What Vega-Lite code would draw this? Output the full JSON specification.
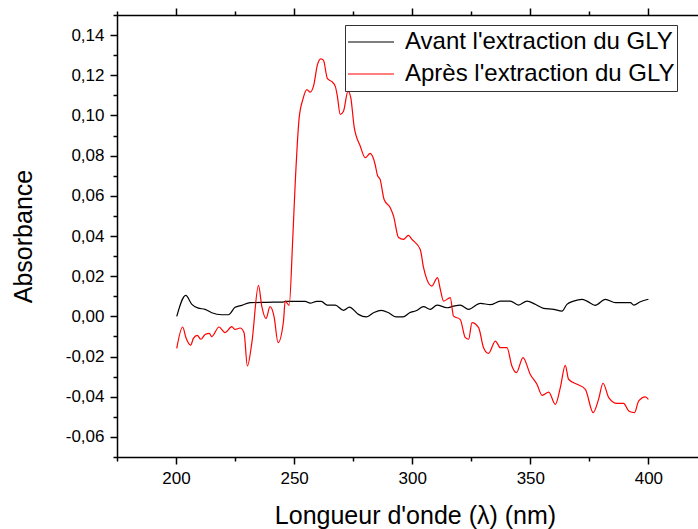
{
  "$schema": "https://vega.github.io/schema/vega-lite/v6.json",
  "width": 581,
  "height": 442,
  "autosize": "none",
  "padding": {"left": 117, "top": 15, "right": 0, "bottom": 72},
  "background": "white",
  "config": {
    "view": {"stroke": null},
    "locale": {"number": {"decimal": ",", "thousands": " ", "grouping": [3], "currency": ["", " €"], "minus": "-"}},
    "font": "Liberation Sans",
    "axis": {
      "domainColor": "black", "domainWidth": 1.5, "tickColor": "black", "tickWidth": 1.5,
      "labelColor": "black", "labelFont": "Liberation Sans", "labelFontSize": 17,
      "titleFont": "Liberation Sans", "titleFontSize": 24, "titleFontWeight": "normal", "titleColor": "black",
      "grid": false, "labelFlush": false, "labelOverlap": false
    }
  },
  "datasets": {
    "avant": [
      {"serie": "Avant l'extraction du GLY", "nm": 200.3, "abs": 0.0},
      {"serie": "Avant l'extraction du GLY", "nm": 204.1, "abs": 0.0104},
      {"serie": "Avant l'extraction du GLY", "nm": 206.7, "abs": 0.006},
      {"serie": "Avant l'extraction du GLY", "nm": 209.4, "abs": 0.0041},
      {"serie": "Avant l'extraction du GLY", "nm": 212.3, "abs": 0.0035},
      {"serie": "Avant l'extraction du GLY", "nm": 215.1, "abs": 0.0018},
      {"serie": "Avant l'extraction du GLY", "nm": 219.4, "abs": 0.0008},
      {"serie": "Avant l'extraction du GLY", "nm": 222.2, "abs": 0.0008},
      {"serie": "Avant l'extraction du GLY", "nm": 225.0, "abs": 0.0045},
      {"serie": "Avant l'extraction du GLY", "nm": 227.8, "abs": 0.0055},
      {"serie": "Avant l'extraction du GLY", "nm": 231.4, "abs": 0.0068},
      {"serie": "Avant l'extraction du GLY", "nm": 238.0, "abs": 0.007},
      {"serie": "Avant l'extraction du GLY", "nm": 245.3, "abs": 0.0071},
      {"serie": "Avant l'extraction du GLY", "nm": 246.2, "abs": 0.0075},
      {"serie": "Avant l'extraction du GLY", "nm": 254.7, "abs": 0.0075},
      {"serie": "Avant l'extraction du GLY", "nm": 256.8, "abs": 0.0066},
      {"serie": "Avant l'extraction du GLY", "nm": 259.6, "abs": 0.0075},
      {"serie": "Avant l'extraction du GLY", "nm": 261.5, "abs": 0.0075},
      {"serie": "Avant l'extraction du GLY", "nm": 264.0, "abs": 0.0056},
      {"serie": "Avant l'extraction du GLY", "nm": 267.4, "abs": 0.0056},
      {"serie": "Avant l'extraction du GLY", "nm": 270.9, "abs": 0.003},
      {"serie": "Avant l'extraction du GLY", "nm": 273.4, "abs": 0.0046},
      {"serie": "Avant l'extraction du GLY", "nm": 277.2, "abs": 0.001},
      {"serie": "Avant l'extraction du GLY", "nm": 280.5, "abs": -0.0003},
      {"serie": "Avant l'extraction du GLY", "nm": 283.6, "abs": 0.0018},
      {"serie": "Avant l'extraction du GLY", "nm": 286.9, "abs": 0.003},
      {"serie": "Avant l'extraction du GLY", "nm": 290.0, "abs": 0.0018},
      {"serie": "Avant l'extraction du GLY", "nm": 293.2, "abs": -0.0003},
      {"serie": "Avant l'extraction du GLY", "nm": 296.1, "abs": -0.0003},
      {"serie": "Avant l'extraction du GLY", "nm": 298.9, "abs": 0.0018},
      {"serie": "Avant l'extraction du GLY", "nm": 301.6, "abs": 0.0028},
      {"serie": "Avant l'extraction du GLY", "nm": 304.8, "abs": 0.0048},
      {"serie": "Avant l'extraction du GLY", "nm": 307.6, "abs": 0.0035},
      {"serie": "Avant l'extraction du GLY", "nm": 310.5, "abs": 0.0056},
      {"serie": "Avant l'extraction du GLY", "nm": 314.7, "abs": 0.0043},
      {"serie": "Avant l'extraction du GLY", "nm": 317.5, "abs": 0.0051},
      {"serie": "Avant l'extraction du GLY", "nm": 320.3, "abs": 0.0056},
      {"serie": "Avant l'extraction du GLY", "nm": 323.9, "abs": 0.0035},
      {"serie": "Avant l'extraction du GLY", "nm": 328.8, "abs": 0.0065},
      {"serie": "Avant l'extraction du GLY", "nm": 333.1, "abs": 0.0058},
      {"serie": "Avant l'extraction du GLY", "nm": 337.3, "abs": 0.0076},
      {"serie": "Avant l'extraction du GLY", "nm": 341.5, "abs": 0.0076},
      {"serie": "Avant l'extraction du GLY", "nm": 345.0, "abs": 0.0056},
      {"serie": "Avant l'extraction du GLY", "nm": 348.6, "abs": 0.0076},
      {"serie": "Avant l'extraction du GLY", "nm": 352.1, "abs": 0.006},
      {"serie": "Avant l'extraction du GLY", "nm": 355.6, "abs": 0.004},
      {"serie": "Avant l'extraction du GLY", "nm": 359.9, "abs": 0.0035},
      {"serie": "Avant l'extraction du GLY", "nm": 363.4, "abs": 0.0026},
      {"serie": "Avant l'extraction du GLY", "nm": 365.5, "abs": 0.006},
      {"serie": "Avant l'extraction du GLY", "nm": 368.3, "abs": 0.0076},
      {"serie": "Avant l'extraction du GLY", "nm": 371.9, "abs": 0.0085},
      {"serie": "Avant l'extraction du GLY", "nm": 374.0, "abs": 0.0076},
      {"serie": "Avant l'extraction du GLY", "nm": 377.5, "abs": 0.0055},
      {"serie": "Avant l'extraction du GLY", "nm": 381.8, "abs": 0.0085},
      {"serie": "Avant l'extraction du GLY", "nm": 386.0, "abs": 0.0068},
      {"serie": "Avant l'extraction du GLY", "nm": 392.4, "abs": 0.0068},
      {"serie": "Avant l'extraction du GLY", "nm": 393.8, "abs": 0.0056},
      {"serie": "Avant l'extraction du GLY", "nm": 396.6, "abs": 0.0073},
      {"serie": "Avant l'extraction du GLY", "nm": 400.0, "abs": 0.0085}
    ],
    "apres": [
      {"serie": "Après l'extraction du GLY", "nm": 200.3, "abs": -0.0159},
      {"serie": "Après l'extraction du GLY", "nm": 202.8, "abs": -0.0053},
      {"serie": "Après l'extraction du GLY", "nm": 204.2, "abs": -0.0106},
      {"serie": "Après l'extraction du GLY", "nm": 206.2, "abs": -0.0143},
      {"serie": "Après l'extraction du GLY", "nm": 207.3, "abs": -0.0111},
      {"serie": "Après l'extraction du GLY", "nm": 209.0, "abs": -0.0095},
      {"serie": "Après l'extraction du GLY", "nm": 210.5, "abs": -0.0114},
      {"serie": "Après l'extraction du GLY", "nm": 212.3, "abs": -0.009},
      {"serie": "Après l'extraction du GLY", "nm": 214.1, "abs": -0.0085},
      {"serie": "Après l'extraction du GLY", "nm": 215.1, "abs": -0.0101},
      {"serie": "Après l'extraction du GLY", "nm": 218.2, "abs": -0.0053},
      {"serie": "Après l'extraction du GLY", "nm": 220.8, "abs": -0.0081},
      {"serie": "Après l'extraction du GLY", "nm": 223.6, "abs": -0.0051},
      {"serie": "Après l'extraction du GLY", "nm": 225.0, "abs": -0.0065},
      {"serie": "Après l'extraction du GLY", "nm": 227.1, "abs": -0.0058},
      {"serie": "Après l'extraction du GLY", "nm": 228.8, "abs": -0.0081},
      {"serie": "Après l'extraction du GLY", "nm": 230.2, "abs": -0.0247},
      {"serie": "Après l'extraction du GLY", "nm": 232.1, "abs": -0.0131},
      {"serie": "Après l'extraction du GLY", "nm": 234.9, "abs": 0.0154},
      {"serie": "Après l'extraction du GLY", "nm": 236.3, "abs": 0.0051},
      {"serie": "Après l'extraction du GLY", "nm": 238.1, "abs": -0.0011},
      {"serie": "Après l'extraction du GLY", "nm": 239.8, "abs": 0.0048},
      {"serie": "Après l'extraction du GLY", "nm": 241.5, "abs": -0.0001},
      {"serie": "Après l'extraction du GLY", "nm": 243.2, "abs": -0.0131},
      {"serie": "Après l'extraction du GLY", "nm": 245.5, "abs": -0.0023},
      {"serie": "Après l'extraction du GLY", "nm": 246.2, "abs": 0.0076},
      {"serie": "Après l'extraction du GLY", "nm": 247.9, "abs": 0.0055},
      {"serie": "Après l'extraction du GLY", "nm": 249.4, "abs": 0.0383},
      {"serie": "Après l'extraction du GLY", "nm": 250.4, "abs": 0.0648},
      {"serie": "Après l'extraction du GLY", "nm": 252.1, "abs": 0.0984},
      {"serie": "Après l'extraction du GLY", "nm": 253.7, "abs": 0.108},
      {"serie": "Après l'extraction du GLY", "nm": 255.4, "abs": 0.1129},
      {"serie": "Après l'extraction du GLY", "nm": 256.8, "abs": 0.1116},
      {"serie": "Après l'extraction du GLY", "nm": 258.2, "abs": 0.1146},
      {"serie": "Après l'extraction du GLY", "nm": 259.9, "abs": 0.1254},
      {"serie": "Après l'extraction du GLY", "nm": 261.3, "abs": 0.1282},
      {"serie": "Après l'extraction du GLY", "nm": 262.4, "abs": 0.1275},
      {"serie": "Après l'extraction du GLY", "nm": 264.1, "abs": 0.1183},
      {"serie": "Après l'extraction du GLY", "nm": 266.0, "abs": 0.1168},
      {"serie": "Après l'extraction du GLY", "nm": 267.4, "abs": 0.1146},
      {"serie": "Après l'extraction du GLY", "nm": 268.3, "abs": 0.1096},
      {"serie": "Après l'extraction du GLY", "nm": 269.5, "abs": 0.1005},
      {"serie": "Après l'extraction du GLY", "nm": 270.9, "abs": 0.1021},
      {"serie": "Après l'extraction du GLY", "nm": 272.8, "abs": 0.1121},
      {"serie": "Après l'extraction du GLY", "nm": 274.0, "abs": 0.1088},
      {"serie": "Après l'extraction du GLY", "nm": 275.4, "abs": 0.0944},
      {"serie": "Après l'extraction du GLY", "nm": 278.0, "abs": 0.0847},
      {"serie": "Après l'extraction du GLY", "nm": 280.1, "abs": 0.079},
      {"serie": "Après l'extraction du GLY", "nm": 282.2, "abs": 0.0811},
      {"serie": "Après l'extraction du GLY", "nm": 284.3, "abs": 0.0756},
      {"serie": "Après l'extraction du GLY", "nm": 285.3, "abs": 0.0701},
      {"serie": "Après l'extraction du GLY", "nm": 286.4, "abs": 0.0682},
      {"serie": "Après l'extraction du GLY", "nm": 288.1, "abs": 0.0582},
      {"serie": "Après l'extraction du GLY", "nm": 290.7, "abs": 0.0541},
      {"serie": "Après l'extraction du GLY", "nm": 292.1, "abs": 0.0499},
      {"serie": "Après l'extraction du GLY", "nm": 294.2, "abs": 0.0392},
      {"serie": "Après l'extraction du GLY", "nm": 296.3, "abs": 0.0383},
      {"serie": "Après l'extraction du GLY", "nm": 298.4, "abs": 0.0403},
      {"serie": "Après l'extraction du GLY", "nm": 299.9, "abs": 0.0383},
      {"serie": "Après l'extraction du GLY", "nm": 303.4, "abs": 0.0333},
      {"serie": "Après l'extraction du GLY", "nm": 304.8, "abs": 0.0242},
      {"serie": "Après l'extraction du GLY", "nm": 306.2, "abs": 0.0184},
      {"serie": "Après l'extraction du GLY", "nm": 308.3, "abs": 0.0151},
      {"serie": "Après l'extraction du GLY", "nm": 310.7, "abs": 0.0193},
      {"serie": "Après l'extraction du GLY", "nm": 311.9, "abs": 0.0134},
      {"serie": "Après l'extraction du GLY", "nm": 313.3, "abs": 0.0076},
      {"serie": "Après l'extraction du GLY", "nm": 316.1, "abs": 0.0093},
      {"serie": "Après l'extraction du GLY", "nm": 317.5, "abs": 0.0001},
      {"serie": "Après l'extraction du GLY", "nm": 320.3, "abs": -0.0015},
      {"serie": "Après l'extraction du GLY", "nm": 322.5, "abs": -0.0106},
      {"serie": "Après l'extraction du GLY", "nm": 323.9, "abs": -0.0114},
      {"serie": "Après l'extraction du GLY", "nm": 325.3, "abs": -0.0031},
      {"serie": "Après l'extraction du GLY", "nm": 328.1, "abs": -0.0056},
      {"serie": "Après l'extraction du GLY", "nm": 330.2, "abs": -0.0156},
      {"serie": "Après l'extraction du GLY", "nm": 332.3, "abs": -0.0184},
      {"serie": "Après l'extraction du GLY", "nm": 335.2, "abs": -0.0123},
      {"serie": "Après l'extraction du GLY", "nm": 337.3, "abs": -0.0156},
      {"serie": "Après l'extraction du GLY", "nm": 340.1, "abs": -0.0156},
      {"serie": "Après l'extraction du GLY", "nm": 342.2, "abs": -0.0247},
      {"serie": "Après l'extraction du GLY", "nm": 344.1, "abs": -0.028},
      {"serie": "Après l'extraction du GLY", "nm": 346.9, "abs": -0.0205},
      {"serie": "Après l'extraction du GLY", "nm": 350.0, "abs": -0.0289},
      {"serie": "Après l'extraction du GLY", "nm": 352.8, "abs": -0.0338},
      {"serie": "Après l'extraction du GLY", "nm": 355.0, "abs": -0.0393},
      {"serie": "Après l'extraction du GLY", "nm": 357.8, "abs": -0.0377},
      {"serie": "Après l'extraction du GLY", "nm": 360.6, "abs": -0.0438},
      {"serie": "Après l'extraction du GLY", "nm": 362.7, "abs": -0.0355},
      {"serie": "Après l'extraction du GLY", "nm": 364.8, "abs": -0.0244},
      {"serie": "Après l'extraction du GLY", "nm": 366.2, "abs": -0.0313},
      {"serie": "Après l'extraction du GLY", "nm": 369.8, "abs": -0.0338},
      {"serie": "Après l'extraction du GLY", "nm": 373.3, "abs": -0.0363},
      {"serie": "Après l'extraction du GLY", "nm": 376.6, "abs": -0.0479},
      {"serie": "Après l'extraction du GLY", "nm": 378.9, "abs": -0.0413},
      {"serie": "Après l'extraction du GLY", "nm": 380.8, "abs": -0.0333},
      {"serie": "Après l'extraction du GLY", "nm": 383.2, "abs": -0.0404},
      {"serie": "Après l'extraction du GLY", "nm": 386.7, "abs": -0.0433},
      {"serie": "Après l'extraction du GLY", "nm": 389.5, "abs": -0.0433},
      {"serie": "Après l'extraction du GLY", "nm": 391.7, "abs": -0.0471},
      {"serie": "Après l'extraction du GLY", "nm": 394.1, "abs": -0.0479},
      {"serie": "Après l'extraction du GLY", "nm": 395.9, "abs": -0.0421},
      {"serie": "Après l'extraction du GLY", "nm": 398.7, "abs": -0.0401},
      {"serie": "Après l'extraction du GLY", "nm": 400.0, "abs": -0.0413}
    ]
  },
  "layer": [
    {
      "data": {"name": "avant"},
      "mark": {"type": "line", "strokeWidth": 1.2, "interpolate": "monotone"},
      "encoding": {
        "x": {
          "field": "nm", "type": "quantitative",
          "scale": {"domain": [175, 421], "nice": false, "zero": false},
          "axis": {
            "orient": "bottom",
            "values": [175, 200, 225, 250, 275, 300, 325, 350, 375, 400],
            "labelExpr": "datum.value % 50 === 0 ? datum.label : ''",
            "tickSize": {"condition": {"test": "datum.value % 50 === 0", "value": 7}, "value": 4},
            "labelPadding": 6,
            "title": "Longueur d'onde (λ) (nm)",
            "titleFontSize": 25,
            "titlePadding": 17,
            "titleX": 298
          }
        },
        "y": {
          "field": "abs", "type": "quantitative",
          "scale": {"domain": [-0.07, 0.15], "nice": false, "zero": false},
          "axis": {
            "orient": "left",
            "values": [-0.07, -0.06, -0.05, -0.04, -0.03, -0.02, -0.01, 0, 0.01, 0.02, 0.03, 0.04, 0.05, 0.06, 0.07, 0.08, 0.09, 0.1, 0.11, 0.12, 0.13, 0.14, 0.15],
            "format": ".2f",
            "labelExpr": "round(datum.value * 100) % 2 === 0 ? datum.label : ''",
            "tickSize": {"condition": {"test": "round(datum.value * 100) % 2 === 0", "value": 7}, "value": 4},
            "labelPadding": 6,
            "title": "Absorbance",
            "titleFontSize": 25,
            "titlePadding": 29
          }
        },
        "color": {
          "field": "serie", "type": "nominal",
          "scale": {"domain": ["Avant l'extraction du GLY", "Après l'extraction du GLY"], "range": ["black", "red"]},
          "legend": {
            "orient": "none", "legendX": 228, "legendY": 10, "title": null,
            "strokeColor": "#333333", "fillColor": "white", "padding": 2,
            "symbolType": "stroke", "symbolSize": 2116, "symbolStrokeWidth": 1.2,
            "clipHeight": 30, "rowPadding": 2,
            "labelFontSize": 24, "labelFont": "Liberation Sans", "labelColor": "black",
            "labelOffset": 10, "labelLimit": 500
          }
        }
      }
    },
    {
      "data": {"name": "apres"},
      "mark": {"type": "line", "strokeWidth": 1.2, "interpolate": "monotone"},
      "encoding": {
        "x": {
          "field": "nm", "type": "quantitative",
          "axis": {
            "orient": "top",
            "values": [175, 200, 225, 250, 275, 300, 325, 350, 375, 400],
            "labels": false,
            "tickSize": {"condition": {"test": "datum.value % 50 === 0", "value": 7}, "value": 4},
            "title": null
          }
        },
        "y": {
          "field": "abs", "type": "quantitative",
          "axis": {
            "orient": "left",
            "values": [-0.07, -0.06, -0.05, -0.04, -0.03, -0.02, -0.01, 0, 0.01, 0.02, 0.03, 0.04, 0.05, 0.06, 0.07, 0.08, 0.09, 0.1, 0.11, 0.12, 0.13, 0.14, 0.15],
            "format": ".2f",
            "labelExpr": "round(datum.value * 100) % 2 === 0 ? datum.label : ''",
            "tickSize": {"condition": {"test": "round(datum.value * 100) % 2 === 0", "value": 7}, "value": 4},
            "labelPadding": 6,
            "title": "Absorbance",
            "titleFontSize": 25,
            "titlePadding": 29
          }
        },
        "color": {"field": "serie", "type": "nominal"}
      }
    }
  ],
  "resolve": {"axis": {"x": "independent", "y": "shared"}}
}
